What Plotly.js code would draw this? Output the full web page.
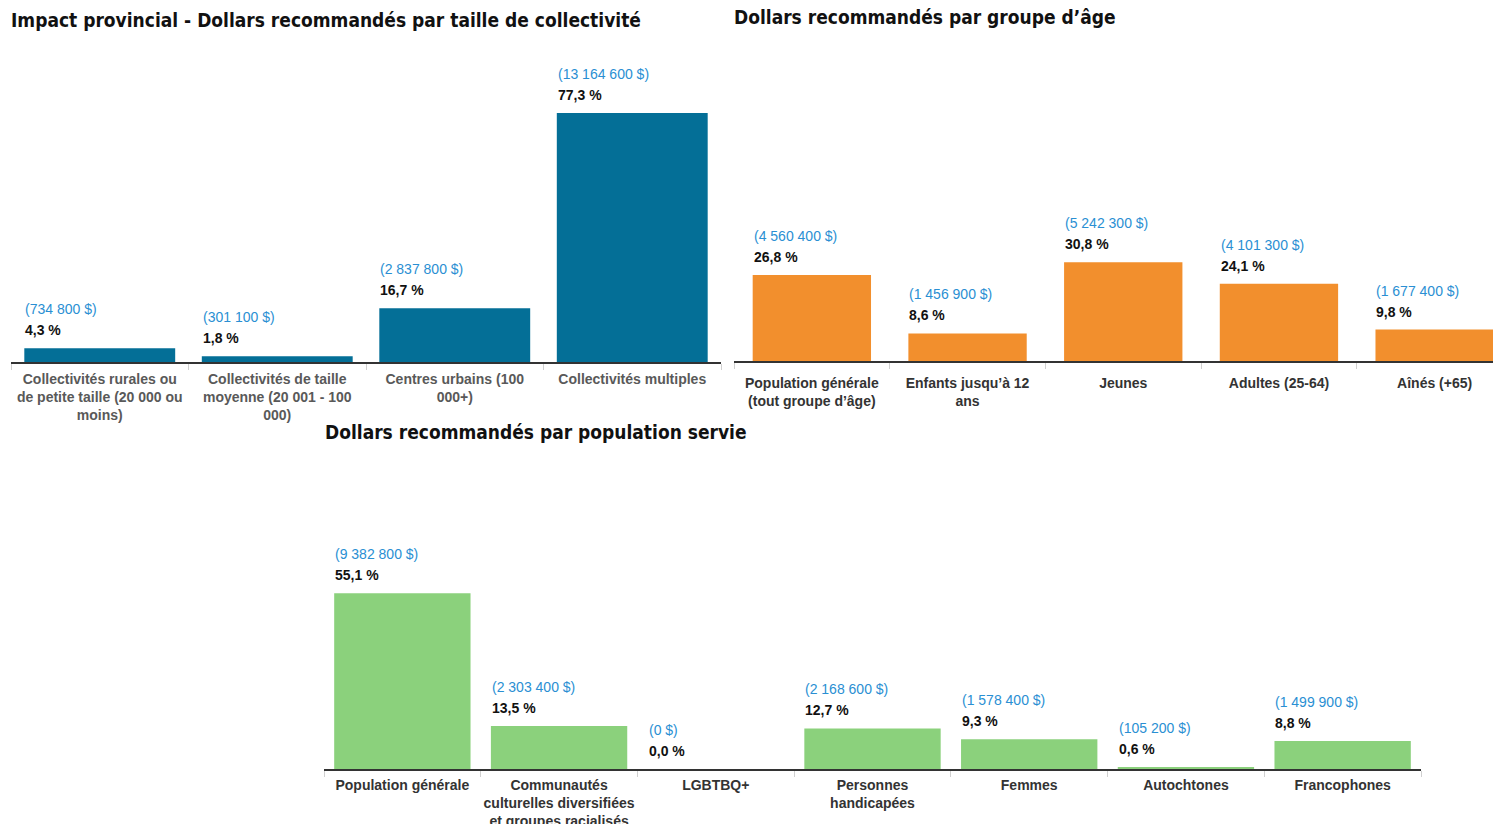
<!DOCTYPE html>
<html><head><meta charset="utf-8">
<script src="https://cdn.plot.ly/plotly-3.0.1.min.js"></script>
<style>html,body{margin:0;padding:0;background:#fff}#chart{width:1493px;height:824px}</style>
</head><body><div id="chart"></div>
<script>
// ---- Data ----
const cat1 = ["Collectivités rurales ou<br>de petite taille (20 000 ou<br>moins)", "Collectivités de taille<br>moyenne (20 001 - 100<br>000)", "Centres urbains (100<br>000+)", "Collectivités multiples"];
const pct1 = [4.3, 1.8, 16.7, 77.3];
const usd1 = [734800, 301100, 2837800, 13164600];

const cat2 = ["Population générale<br>(tout groupe d’âge)", "Enfants jusqu’à 12<br>ans", "Jeunes", "Adultes (25-64)", "Aînés (+65)"];
const pct2 = [26.8, 8.6, 30.8, 24.1, 9.8];
const usd2 = [4560400, 1456900, 5242300, 4101300, 1677400];

const cat3 = ["Population générale", "Communautés<br>culturelles diversifiées<br>et groupes racialisés", "LGBTBQ+", "Personnes<br>handicapées", "Femmes", "Autochtones", "Francophones"];
const pct3 = [55.1, 13.5, 0.0, 12.7, 9.3, 0.6, 8.8];
const usd3 = [9382800, 2303400, 0, 2168600, 1578400, 105200, 1499900];

const titles = ["Impact provincial - Dollars recommandés par taille de collectivité", "Dollars recommandés par groupe d’âge", "Dollars recommandés par population servie"];

// ---- Layout helpers ----
const W = 1493, H = 824;
const px = v => v / W;
const py = v => 1 - v / H;
const fmtUsd = v => "(" + String(v).replace(/\B(?=(\d{3})+(?!\d))/g, " ") + " $)";
const fmtPct = v => v.toFixed(1).replace(".", ",") + " %";

const panels = [
  {cats: cat1, pct: pct1, usd: usd1, color: "#046f97", x0: 11, x1: 721, axisY: 362, k: 3.22, w: 0.85, range: [-0.5, 3.5], tickColor: "#595959", standoff: 3, fs: 14},
  {cats: cat2, pct: pct2, usd: usd2, color: "#f28f2d", x0: 734, x1: 1493, axisY: 361, k: 3.21, w: 0.76, range: [-0.5, -0.5 + 759 / 155.7], tickColor: "#333333", standoff: 8, fs: 14},
  {cats: cat3, pct: pct3, usd: usd3, color: "#8bd17c", x0: 324, x1: 1421, axisY: 769, k: 3.19, w: 0.87, range: [-0.5, 6.5], tickColor: "#333333", standoff: 2, fs: 14}
];
const YMAX = 80;
const data = [];
const layout = {
  width: W, height: H, margin: {l: 0, r: 0, t: 0, b: 0},
  paper_bgcolor: "#fff", plot_bgcolor: "rgba(0,0,0,0)",
  showlegend: false, bargap: 0.15,
  font: {family: "Liberation Sans, Arial, sans-serif"},
  annotations: []
};
panels.forEach((p, i) => {
  const n = i === 0 ? "" : String(i + 1);
  const xa = "xaxis" + n, ya = "yaxis" + n;
  data.push({
    type: "bar", x: p.cats, y: p.pct, width: p.w,
    xaxis: "x" + n, yaxis: "y" + n,
    marker: {color: p.color, line: {width: 0}}, hoverinfo: "skip"
  });
  layout[xa] = {
    domain: [px(p.x0), px(p.x1)], anchor: "y" + n, type: "category",
    range: p.range, tickson: "boundaries", ticks: "outside", ticklen: 6, tickcolor: "#d0d0d0", tickwidth: 1,
    showline: true, linecolor: "#333333", linewidth: 2, showgrid: false, zeroline: false,
    tickangle: 0, automargin: false,
    tickfont: {family: "Liberation Sans, Arial, sans-serif", size: p.fs, color: p.tickColor, weight: "bold"},
    ticklabelstandoff: p.standoff, fixedrange: true
  };
  layout[ya] = {
    domain: [py(p.axisY), py(p.axisY - p.k * YMAX)], anchor: "x" + n,
    range: [0, YMAX], visible: false, fixedrange: true
  };
  p.pct.forEach((v, j) => {
    layout.annotations.push({
      xref: "x" + n, yref: "y" + n, x: j - p.w / 2, y: v, xanchor: "left", yanchor: "middle",
      yshift: 39, xshift: -1, showarrow: false, text: fmtUsd(p.usd[j]),
      font: {family: "Liberation Sans, Arial, sans-serif", size: 14, color: "#2a8fd3"}
    });
    layout.annotations.push({
      xref: "x" + n, yref: "y" + n, x: j - p.w / 2, y: v, xanchor: "left", yanchor: "middle",
      yshift: 18, xshift: -1, showarrow: false, text: fmtPct(v),
      font: {family: "Liberation Sans, Arial, sans-serif", size: 14, color: "#111111", weight: "bold"}
    });
  });
});
const titlePos = [[9, 20], [732, 17], [323, 432]];
titles.forEach((t, i) => {
  layout.annotations.push({
    xref: "paper", yref: "paper", x: px(titlePos[i][0]), y: py(titlePos[i][1]),
    xanchor: "left", yanchor: "middle", showarrow: false, text: t,
    font: {family: "DejaVu Sans Condensed, DejaVu Sans, sans-serif", size: 19, color: "#111111", weight: "bold"}
  });
});
Plotly.newPlot("chart", data, layout, {displayModeBar: false, staticPlot: true});
</script></body></html>
